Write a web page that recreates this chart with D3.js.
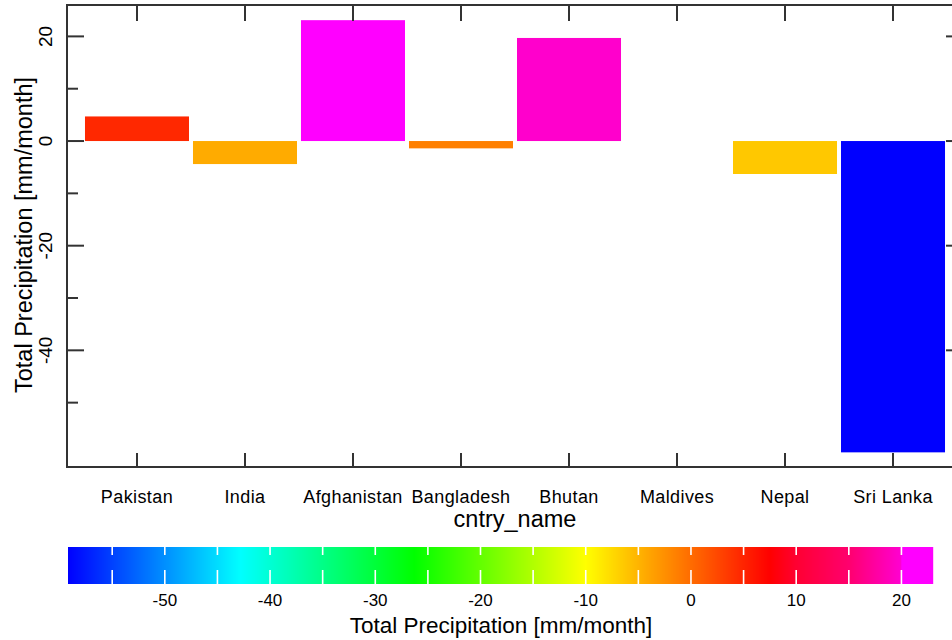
<!DOCTYPE html>
<html>
<head>
<meta charset="utf-8">
<script src="https://cdn.jsdelivr.net/npm/d3@7"></script>
<style>
  html, body { margin: 0; padding: 0; background: #fff; }
  svg { display: block; }
  text { font-family: "Liberation Sans", Arial, Helvetica, sans-serif; fill: #000; }
</style>
</head>
<body>
<svg id="chart" width="952" height="640"></svg>
<script>
// ---------- data ----------
const categories = ["Pakistan", "India", "Afghanistan", "Bangladesh", "Bhutan", "Maldives", "Nepal", "Sri Lanka"];
const values = [4.7, -4.4, 23.1, -1.4, 19.7, null, -6.3, -59.5];
const yMajorTicks = [-40, -20, 0, 20];
const yMinorTicks = [-50, -30, -10, 10];
const colorbarTicks = [-50, -40, -30, -20, -10, 0, 10, 20];
const colorbarMarks = [-55, -50, -45, -40, -35, -30, -25, -20, -15, -10, -5, 0, 5, 10, 15, 20];
const colorbarRange = [-59.2, 23.0];
const colorStopValues = [-59.2, -42.8, -26.3, -10, -4, 7.5, 10, 15, 20, 20.01, 23];
const colorStopColors = ["#0000ff", "#00ffff", "#00ff00", "#ffff00", "#ffa500", "#ff0000",
                         "#ff0032", "#ff006e", "#ff00d2", "#ff00ff", "#ff00ff"];
const yTitle = "Total Precipitation [mm/month]";
const xTitle = "cntry_name";
const cbTitle = "Total Precipitation [mm/month]";

// ---------- layout ----------
const svg = d3.select("#chart");
const plot = { left: 67, right: 963, top: 5, bottom: 467 };
const axisColor = "#333";

const x = d3.scaleLinear().domain([0.352, 8.648]).range([plot.left, plot.right]);
const y = d3.scaleLinear().domain([-62.3, 26.0]).range([plot.bottom, plot.top]);
const color = d3.scaleLinear().domain(colorStopValues).range(colorStopColors).interpolate(d3.interpolateRgb).clamp(true);
const barHalf = 0.4815;

// ---------- bars ----------
const data = categories.map((c, i) => ({ c, i: i + 1, v: values[i] }));
svg.append("g").selectAll("rect")
  .data(data.filter(d => d.v !== null))
  .join("rect")
  .attr("x", d => x(d.i - barHalf))
  .attr("width", d => x(d.i + barHalf) - x(d.i - barHalf))
  .attr("y", d => y(Math.max(0, d.v)))
  .attr("height", d => Math.abs(y(d.v) - y(0)))
  .attr("fill", d => color(d.v));

// ---------- frame ----------
svg.append("rect")
  .attr("x", plot.left).attr("y", plot.top)
  .attr("width", plot.right - plot.left).attr("height", plot.bottom - plot.top)
  .attr("fill", "none").attr("stroke", axisColor).attr("stroke-width", 2);

// x ticks (bottom and top)
const ax = svg.append("g").attr("stroke", axisColor).attr("stroke-width", 2);
data.forEach(d => {
  ax.append("line").attr("x1", x(d.i)).attr("x2", x(d.i)).attr("y1", plot.bottom).attr("y2", plot.bottom - 14);
  ax.append("line").attr("x1", x(d.i)).attr("x2", x(d.i)).attr("y1", plot.top).attr("y2", plot.top + 16);
});
// y ticks (left and right)
yMajorTicks.forEach(t => {
  ax.append("line").attr("x1", plot.left).attr("x2", plot.left + 17).attr("y1", y(t)).attr("y2", y(t));
  ax.append("line").attr("x1", plot.right).attr("x2", plot.right - 17).attr("y1", y(t)).attr("y2", y(t));
});
yMinorTicks.forEach(t => {
  ax.append("line").attr("x1", plot.left).attr("x2", plot.left + 11).attr("y1", y(t)).attr("y2", y(t));
  ax.append("line").attr("x1", plot.right).attr("x2", plot.right - 11).attr("y1", y(t)).attr("y2", y(t));
});

// y tick labels (rotated)
svg.append("g").selectAll("text")
  .data(yMajorTicks)
  .join("text")
  .attr("transform", t => `translate(52,${y(t)}) rotate(-90)`)
  .attr("text-anchor", "middle")
  .style("font-size", "19px")
  .text(t => t);

// category labels
svg.append("g").selectAll("text")
  .data(data)
  .join("text")
  .attr("x", d => x(d.i))
  .attr("y", 503)
  .attr("text-anchor", "middle")
  .style("font-size", "18px")
  .style("letter-spacing", "0.4px")
  .text(d => d.c);

// axis titles
svg.append("text")
  .attr("x", 515).attr("y", 527)
  .attr("text-anchor", "middle")
  .style("font-size", "23.5px")
  .text(xTitle);

svg.append("text")
  .attr("transform", `translate(32,235) rotate(-90)`)
  .attr("text-anchor", "middle")
  .style("font-size", "23.5px")
  .text(yTitle);

// ---------- colorbar ----------
const cb = { left: 68, right: 933, top: 547, bottom: 584 };
const cx = d3.scaleLinear().domain(colorbarRange).range([cb.left, cb.right]);
const cols = d3.range(cb.left, cb.right, 1);
svg.append("g").selectAll("rect")
  .data(cols)
  .join("rect")
  .attr("x", px => px)
  .attr("y", cb.top)
  .attr("width", 1.2)
  .attr("height", cb.bottom - cb.top)
  .attr("fill", px => color(cx.invert(px + 0.5)));

const cbm = svg.append("g").attr("stroke", "#fff").attr("stroke-width", 1.6);
colorbarMarks.forEach(t => {
  cbm.append("line").attr("x1", cx(t)).attr("x2", cx(t)).attr("y1", cb.top).attr("y2", cb.top + 8);
  cbm.append("line").attr("x1", cx(t)).attr("x2", cx(t)).attr("y1", cb.bottom - 14).attr("y2", cb.bottom);
});

svg.append("g").selectAll("text")
  .data(colorbarTicks)
  .join("text")
  .attr("x", t => cx(t))
  .attr("y", 606)
  .attr("text-anchor", "middle")
  .style("font-size", "17px")
  .text(t => t);

svg.append("text")
  .attr("x", 501).attr("y", 633)
  .attr("text-anchor", "middle")
  .style("font-size", "22.5px")
  .text(cbTitle);
</script>
</body>
</html>
